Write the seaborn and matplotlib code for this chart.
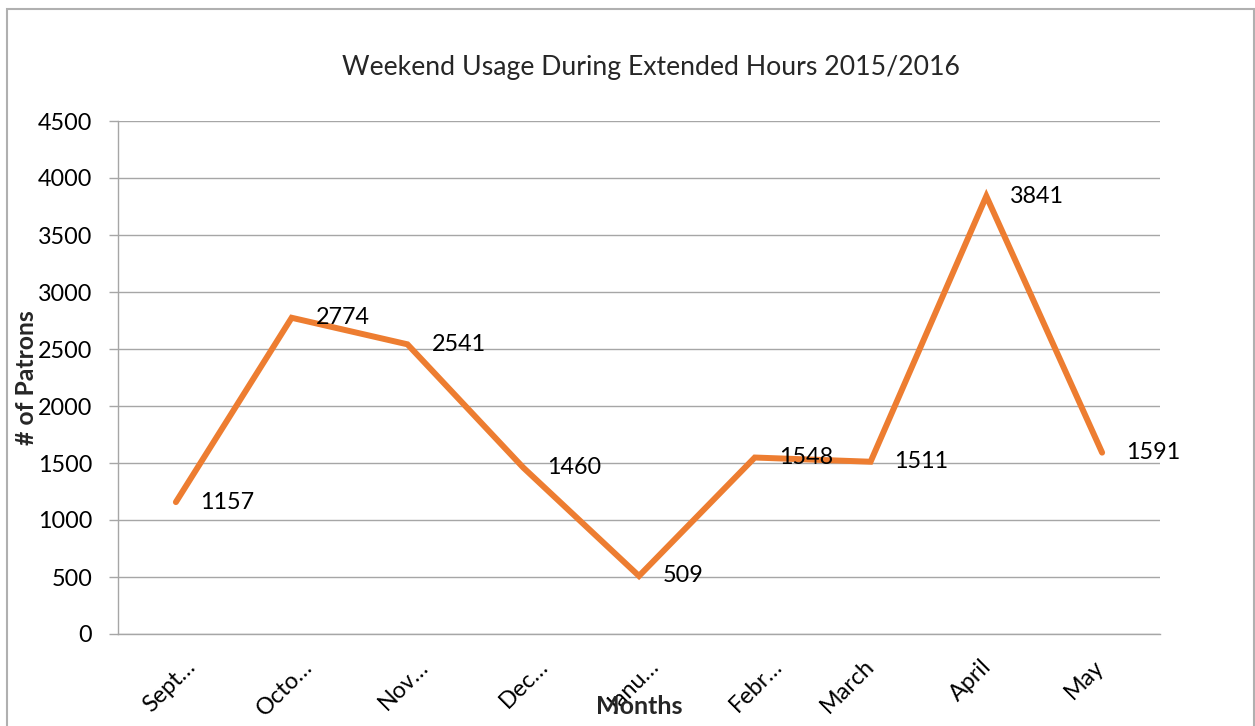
import matplotlib
matplotlib.use("Agg")
import matplotlib.pyplot as plt
import seaborn as sns
import pandas as pd
from matplotlib.patches import Rectangle
from matplotlib.transforms import ScaledTranslation

# ---- data ----
months = ["September", "October", "November", "December", "January",
          "February", "March", "April", "May"]
tick_labels = ["Sept…", "Octo…", "Nov…", "Dec…", "Janu…", "Febr…",
               "March", "April", "May"]
patrons = [1157, 2774, 2541, 1460, 509, 1548, 1511, 3841, 1591]
y_ticks = [0, 500, 1000, 1500, 2000, 2500, 3000, 3500, 4000, 4500]
title = "Weekend Usage During Extended Hours 2015/2016"

sns.set_theme(style="white")
plt.rcParams['font.family'] = ['Lato', 'DejaVu Sans']

W, H = 1255, 726
DPI = 100
FS = 16.8
fig = plt.figure(figsize=(W / DPI, H / DPI), dpi=DPI)
fig.patch.set_facecolor("white")

ax_l, ax_r, ax_t, ax_b = 118, 1160, 121, 634
ax = fig.add_axes([ax_l / W, 1 - ax_b / H, (ax_r - ax_l) / W, (ax_b - ax_t) / H])

df = pd.DataFrame({"Month": months, "Patrons": patrons})
sns.lineplot(data=df, x="Month", y="Patrons", ax=ax, color="#ED7D31",
             linewidth=4.3, sort=False)
for ln in ax.lines:
    ln.set_solid_capstyle("round")
    ln.set_solid_joinstyle("miter")

ax.set_xlim(-0.5, len(months) - 0.5)
ax.set_ylim(0, 4500)
ax.set_yticks(y_ticks)
ax.set_yticklabels([str(v) for v in y_ticks], fontsize=FS)

grey = "#a6a6a6"
ax.yaxis.grid(True, color=grey, linewidth=1.0)
ax.xaxis.grid(False)
for s in ["top", "right"]:
    ax.spines[s].set_visible(False)
for s in ["left", "bottom"]:
    ax.spines[s].set_color(grey)
    ax.spines[s].set_linewidth(1.0)

ax.tick_params(axis="y", left=True, length=6.5, width=1.0, color=grey,
               pad=12, labelsize=FS, labelcolor="black")
ax.tick_params(axis="x", bottom=False, length=0, pad=21, labelsize=FS,
               labelcolor="black")

ax.set_xticks(range(len(months)))
ax.set_xticklabels(tick_labels, rotation=45, ha="right", va="center",
                   rotation_mode="anchor", fontsize=FS)

# data labels
for i, v in enumerate(patrons):
    ax.annotate(str(v), (i, v), xytext=(24, 0), textcoords="offset pixels",
                ha="left", va="center", fontsize=FS, color="black")

ax.set_ylabel("# of Patrons", fontsize=17.8, fontweight="bold", va="center")
ax.yaxis.set_label_coords((26 - ax_l) / (ax_r - ax_l), 0.5)
ax.set_xlabel("Months", fontsize=18, fontweight="bold", va="center")
ax.xaxis.set_label_coords(0.5, (ax_b - 706) / (ax_b - ax_t))

fig.text(651 / W, 1 - 68 / H, title, ha="center", va="center", fontsize=19.2)

# outer chart border
fig.add_artist(Rectangle((7 / W, -0.02), (1254 - 7) / W, (1 - 9 / H) + 0.02,
                         transform=fig.transFigure, fill=False,
                         edgecolor="#b0b0b0", linewidth=1.5))

# per-label horizontal shift of the rotated month labels (pixels)
dx = [16, 17, 18, 22, 17, 24, 0, 2, -2]
for lab, d in zip(ax.get_xticklabels(), dx):
    lab.set_transform(lab.get_transform() +
                      ScaledTranslation(d / DPI, 0, fig.dpi_scale_trans))

fig.savefig("out.png", dpi=DPI)
